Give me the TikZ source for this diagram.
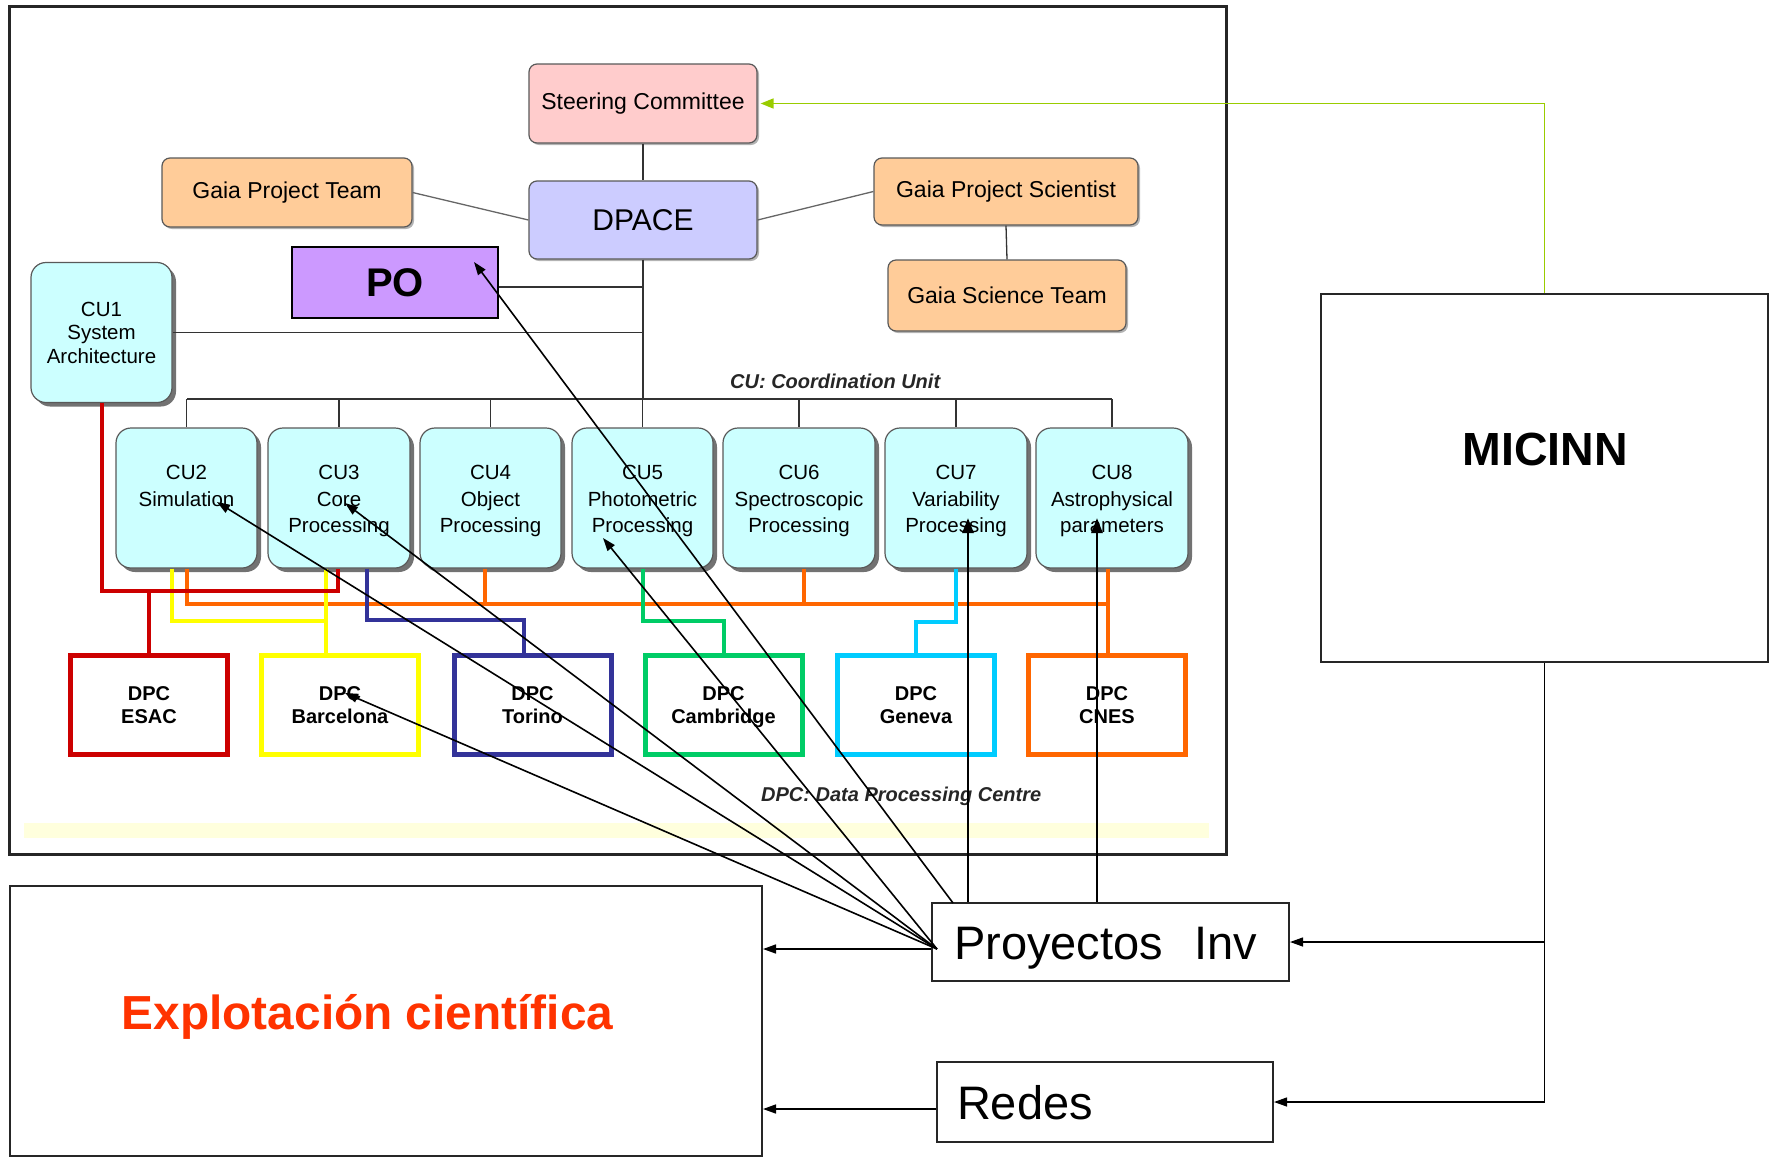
\documentclass[tikz,border=0pt]{standalone}
\usepackage{fontspec}
\setmainfont{Liberation Sans}
\usetikzlibrary{arrows.meta,shadows,calc}
\definecolor{steerfill}{HTML}{FFCCCC}
\definecolor{dpacefill}{HTML}{CCCCFF}
\definecolor{gaiafill}{HTML}{FFCC99}
\definecolor{pofill}{HTML}{CC99FF}
\definecolor{cufill}{HTML}{CCFFFF}
\definecolor{dpcred}{HTML}{CC0000}
\definecolor{dpcyellow}{HTML}{FFFF00}
\definecolor{dpcnavy}{HTML}{333399}
\definecolor{dpcgreen}{HTML}{00CC66}
\definecolor{dpccyan}{HTML}{00CCFF}
\definecolor{dpcorange}{HTML}{FF6600}
\definecolor{micgreen}{HTML}{99CC00}
\definecolor{explred}{HTML}{FF3300}
\definecolor{bandyellow}{HTML}{FFFFDD}
\newcommand\cutopstrut{\rule{0pt}{21pt}}
\newcommand\dpctopstrut{\rule{0pt}{17.3pt}}
\begin{document}
\begin{tikzpicture}[x=1pt,y=-1pt,
  rbox/.style={draw=black!65, line width=1.2pt, rounded corners=8pt, inner sep=0pt, align=center,
    font=\fontsize{23}{27}\selectfont,
    drop shadow={shadow xshift=2pt,shadow yshift=-2pt,fill=black!50,opacity=0.6}},
  cubox/.style={draw=black!65, line width=1.2pt, fill=cufill, rounded corners=15pt, inner sep=0pt,
    align=center, minimum height=140pt, font=\fontsize{20.5}{26.5}\selectfont,
    drop shadow={shadow xshift=4pt,shadow yshift=-4pt,fill=black!65,opacity=0.85}},
  dpcbox/.style={draw=#1, line width=5pt, minimum width=157pt, minimum height=99pt, inner sep=0pt,
    align=center, font=\bfseries\fontsize{20}{23}\selectfont},
  plainbox/.style={draw=black!85, line width=2pt, inner sep=0pt},
  link/.style={draw=black!80, line width=1.3pt},
  glink/.style={draw=black!60, line width=1.3pt},
  cl/.style={draw=#1, line width=4pt, line join=miter},
  arr/.style={draw=black, line width=1.6pt, -{Triangle[length=13pt,width=9pt]}},
  varr/.style={draw=black, line width=2.8pt, -{Triangle[length=15pt,width=11pt]}},
  note/.style={font=\bfseries\itshape\fontsize{20}{24}\selectfont, text=black!85, anchor=base west, inner sep=0pt}
]
\useasboundingbox (0,0) rectangle (1769,1157);

% outer frame and band
\node[draw=black!85, line width=2.5pt, minimum width=1217pt, minimum height=848pt, anchor=north west, inner sep=0pt] (frame) at (8,5) {};
\fill[bandyellow] (24,823) rectangle (1209,838);

% top boxes
\node[rbox, fill=steerfill, minimum width=228pt, minimum height=79pt] (steer) at (643,103.5) {Steering Committee};
\node[rbox, fill=dpacefill, minimum width=228pt, minimum height=78pt, font=\fontsize{30}{34}\selectfont] (dpace) at (643,220) {DPACE};
\node[rbox, fill=gaiafill, minimum width=250pt, minimum height=69pt] (gpt) at (287,192.5) {Gaia Project Team};
\node[rbox, fill=gaiafill, minimum width=264pt, minimum height=67pt] (gps) at (1006,191.5) {Gaia Project Scientist};
\node[rbox, fill=gaiafill, minimum width=238pt, minimum height=71pt] (gst) at (1007,295.5) {Gaia Science Team};
\node[draw=black, line width=2pt, fill=pofill, minimum width=206pt, minimum height=71pt, inner sep=0pt,
  font=\bfseries\fontsize{40}{44}\selectfont] (po) at (395,282.5) {PO};

% CU boxes
\node[cubox, minimum width=141pt, font=\fontsize{20.5}{23.5}\selectfont] (cu1) at (101.5,332.5) {CU1\\System\\Architecture};
\node[cubox, minimum width=141pt] (cu2) at (186.5,498) {\cutopstrut CU2\\Simulation\\\phantom{Processing}};
\node[cubox, minimum width=142pt] (cu3) at (339,498) {\cutopstrut CU3\\Core\\Processing};
\node[cubox, minimum width=141pt] (cu4) at (490.5,498) {\cutopstrut CU4\\Object\\Processing};
\node[cubox, minimum width=141pt] (cu5) at (642.5,498) {\cutopstrut CU5\\Photometric\\Processing};
\node[cubox, minimum width=152pt] (cu6) at (799,498) {\cutopstrut CU6\\Spectroscopic\\Processing};
\node[cubox, minimum width=142pt] (cu7) at (956,498) {\cutopstrut CU7\\Variability\\Processing};
\node[cubox, minimum width=152pt] (cu8) at (1112,498) {\cutopstrut CU8\\Astrophysical\\parameters};

% DPC boxes
\node[dpcbox=dpcred] (esac) at (149,705) {\dpctopstrut DPC\\ESAC\vphantom{g}};
\node[dpcbox=dpcyellow] (barc) at (340,705) {\dpctopstrut DPC\\Barcelona\vphantom{g}};
\node[dpcbox=dpcnavy] (tor) at (532.5,705) {\dpctopstrut DPC\\Torino\vphantom{g}};
\node[dpcbox=dpcgreen] (cam) at (723.5,705) {\dpctopstrut DPC\\Cambridge};
\node[dpcbox=dpccyan] (gen) at (916,705) {\dpctopstrut DPC\\Geneva\vphantom{g}};
\node[dpcbox=dpcorange] (cnes) at (1107,705) {\dpctopstrut DPC\\CNES\vphantom{g}};

% notes
\node[note] (culabel) at (730,388) {CU: Coordination Unit};
\node[note] (dpclabel) at (761,801) {DPC: Data Processing Centre};

% lower boxes
\node[plainbox, minimum width=447pt, minimum height=368pt, anchor=north west] (micinn) at (1320,293) {};
\node[font=\bfseries\fontsize{46.5}{50}\selectfont, anchor=base, inner sep=0pt] (mictext) at (1545,465) {MICINN};
\node[plainbox, minimum width=752pt, minimum height=270pt, anchor=north west] (expl) at (9,885) {};
\node[font=\bfseries\fontsize{47.8}{52}\selectfont, text=explred, anchor=base, inner sep=0pt] (expltext) at (367.5,1029) {Explotación científica};
\node[plainbox, minimum height=78pt, inner xsep=22pt, text width=313pt, align=left,
  font=\fontsize{47}{50}\selectfont, text height=34pt, text depth=0pt] (proj) at (1110.5,942) {Proyectos\ \ Inv};
\node[plainbox, minimum height=80pt, inner xsep=20pt, text width=296pt, align=left,
  font=\fontsize{47}{50}\selectfont, text height=34pt, text depth=0pt] (redes) at (1105,1102) {Redes};

% organisation links
\draw[link] (steer.south) -- (dpace.north);
\coordinate (busL) at (187,399);
\coordinate (busR) at (1112,399);
\coordinate (poy) at (0,287);
\draw[link] (dpace.south) -- (dpace.south |- busL);
\draw[link] (po.east |- poy) -- (poy -| dpace.south);
\draw[link] (cu1.east) -- (cu1.east -| dpace.south);
\draw[link] (busL) -- (busR);
\foreach \c in {cu2,cu3,cu4,cu5,cu6,cu7,cu8} { \draw[link] (\c.north |- busL) -- (\c.north); }
\draw[glink] (gpt.east) -- (dpace.west);
\draw[glink] (dpace.east) -- (gps.west);
\draw[link] (gps.south) -- (gst.north);

% coloured CU-DPC links
\coordinate (oL) at (187,604);
\coordinate (oR) at (1108,604);
\coordinate (o4) at (485,604);
\coordinate (o6) at (804,604);
\draw[cl=dpcorange] (oL |- cu2.south) -- (oL) -- (oR);
\draw[cl=dpcorange] (o4) -- (o4 |- cu4.south);
\draw[cl=dpcorange] (o6) -- (o6 |- cu6.south);
\draw[cl=dpcorange] (oR |- cu8.south) -- (oR |- cnes.north);
\coordinate (yB) at (172,621);
\coordinate (yA) at (326,621);
\draw[cl=dpcyellow] (yB |- cu2.south) -- (yB) -- (yA);
\draw[cl=dpcyellow] (yA |- cu3.south) -- (yA |- barc.north);
\coordinate (nA) at (367,620);
\coordinate (nB) at (523.5,620);
\draw[cl=dpcnavy] (nA |- cu3.south) -- (nA) -- (nB) -- (nB |- tor.north);
\coordinate (gA) at (642.5,621);
\draw[cl=dpcgreen] (cu5.south) -- (gA) -| (cam.north);
\coordinate (cA) at (956,622);
\draw[cl=dpccyan] (cu7.south) -- (cA) -| (gen.north);
\coordinate (rA) at (338,591);
\draw[cl=dpcred] (cu1.south) |- (rA) -- (rA |- cu3.south);
\draw[cl=dpcred] (esac.north |- rA) -- (esac.north);

% green link MICINN -> Steering Committee
\draw[draw=micgreen, line width=1.6pt, -{Triangle[length=13pt,width=10pt]}, shorten >=3pt] (micinn.north) |- (steer.east);

% MICINN -> Proyectos / Redes
\draw[arr, line width=1.3pt] (micinn.south) |- (proj.east);
\draw[arr, line width=1.3pt] (micinn.south) |- (redes.east);

% arrows from Proyectos Inv
\coordinate (pconv) at (937,949);
\coordinate (ptop) at (953,903);
\coordinate (tpo) at (474,262);
\coordinate (tcu2) at (217,502);
\coordinate (tcu3) at (345,503);
\coordinate (tcu5) at (603,538);
\coordinate (tbarc) at (345,693);
\coordinate (tcu7) at (968,518);
\coordinate (tcu8) at (1097,518);
\draw[arr] (ptop) -- (tpo);
\draw[arr] (pconv) -- (tcu5);
\draw[arr] (pconv) -- (tcu3);
\draw[arr] (pconv) -- (tcu2);
\draw[arr] (pconv) -- (tbarc);
\draw[varr] (proj.north -| tcu7) -- (tcu7);
\draw[varr] (proj.north -| tcu8) -- (tcu8);

% arrows to Explotacion
\draw[arr] (pconv -| proj.west) -- (pconv -| expl.east);
\coordinate (rmid) at (937,1109);
\draw[arr] (rmid -| redes.west) -- (rmid -| expl.east);
\end{tikzpicture}
\end{document}
